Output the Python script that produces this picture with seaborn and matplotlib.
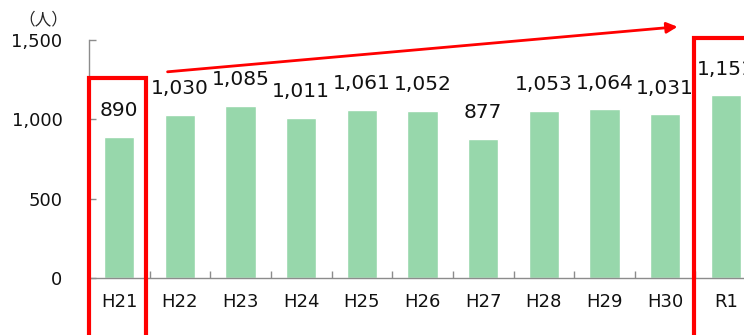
import matplotlib
matplotlib.use("Agg")
import matplotlib.pyplot as plt
from matplotlib.patches import Rectangle, FancyArrowPatch
from matplotlib.ticker import FixedLocator
import seaborn as sns
import pandas as pd

years = ["H21", "H22", "H23", "H24", "H25", "H26", "H27", "H28", "H29", "H30", "R1"]
people = [890, 1030, 1085, 1011, 1061, 1052, 877, 1053, 1064, 1031, 1151]
y_ticks = [0, 500, 1000, 1500]

df = pd.DataFrame({"year": years, "people": people})

sns.set_theme(style="white")
plt.rcParams["font.family"] = ["DejaVu Sans", "Noto Sans CJK JP"]
plt.rcParams["xtick.direction"] = "in"
plt.rcParams["ytick.direction"] = "in"

fig = plt.figure(figsize=(7.44, 3.35), dpi=100)
W, H = 744, 335
left, right, top, bottom = 89, 744, 40, 278
ax = fig.add_axes([left / W, 1 - bottom / H, (right - left) / W, (bottom - top) / H])

sns.barplot(data=df, x="year", y="people", color="#97D7AB", saturation=1,
            width=0.5, ax=ax)

ax.set_xlim(-0.5, 10.3)
ax.set_ylim(0, 1500)
ax.set_yticks(y_ticks)
ax.set_yticklabels([f"{v:,}" for v in y_ticks])
ax.set_xlabel("")
ax.set_ylabel("")

for s in ["top", "right"]:
    ax.spines[s].set_visible(False)
for s in ["left", "bottom"]:
    ax.spines[s].set_color("#8c8c8c")
    ax.spines[s].set_linewidth(1.0)

ax.tick_params(axis="y", direction="in", length=5, color="#8c8c8c", width=1,
               pad=19, labelsize=13, left=True, labelcolor="#111111")
ax.tick_params(axis="x", which="major", length=0, pad=11, labelsize=13,
               labelcolor="#111111")
ax.xaxis.set_minor_locator(FixedLocator([i + 0.5 for i in range(len(years))]))
ax.tick_params(axis="x", which="minor", direction="in", length=5,
               color="#8c8c8c", width=1, bottom=True)

for c in ax.containers:
    ax.bar_label(c, labels=[f"{v:,}" for v in people], padding=12,
                 fontsize=14.5, color="#111111", clip_on=False)

ax.text(-1.25, 1630, "（人）", ha="center", va="center", fontsize=12,
        family=["Noto Sans CJK JP", "DejaVu Sans"], clip_on=False)

red = "#FF0000"
ax.add_patch(Rectangle((-0.5, -600), 0.94, 1860, fill=False, edgecolor=red,
                       linewidth=3, clip_on=False, zorder=5))
ax.add_patch(Rectangle((9.48, -600), 1.5, 2112, fill=False, edgecolor=red,
                       linewidth=3, clip_on=False, zorder=5))
ax.add_patch(FancyArrowPatch((0.75, 1298), (9.25, 1585), arrowstyle="-|>",
                             mutation_scale=16, color=red, linewidth=2,
                             clip_on=False, zorder=5))

fig.savefig("out.png", dpi=100)
